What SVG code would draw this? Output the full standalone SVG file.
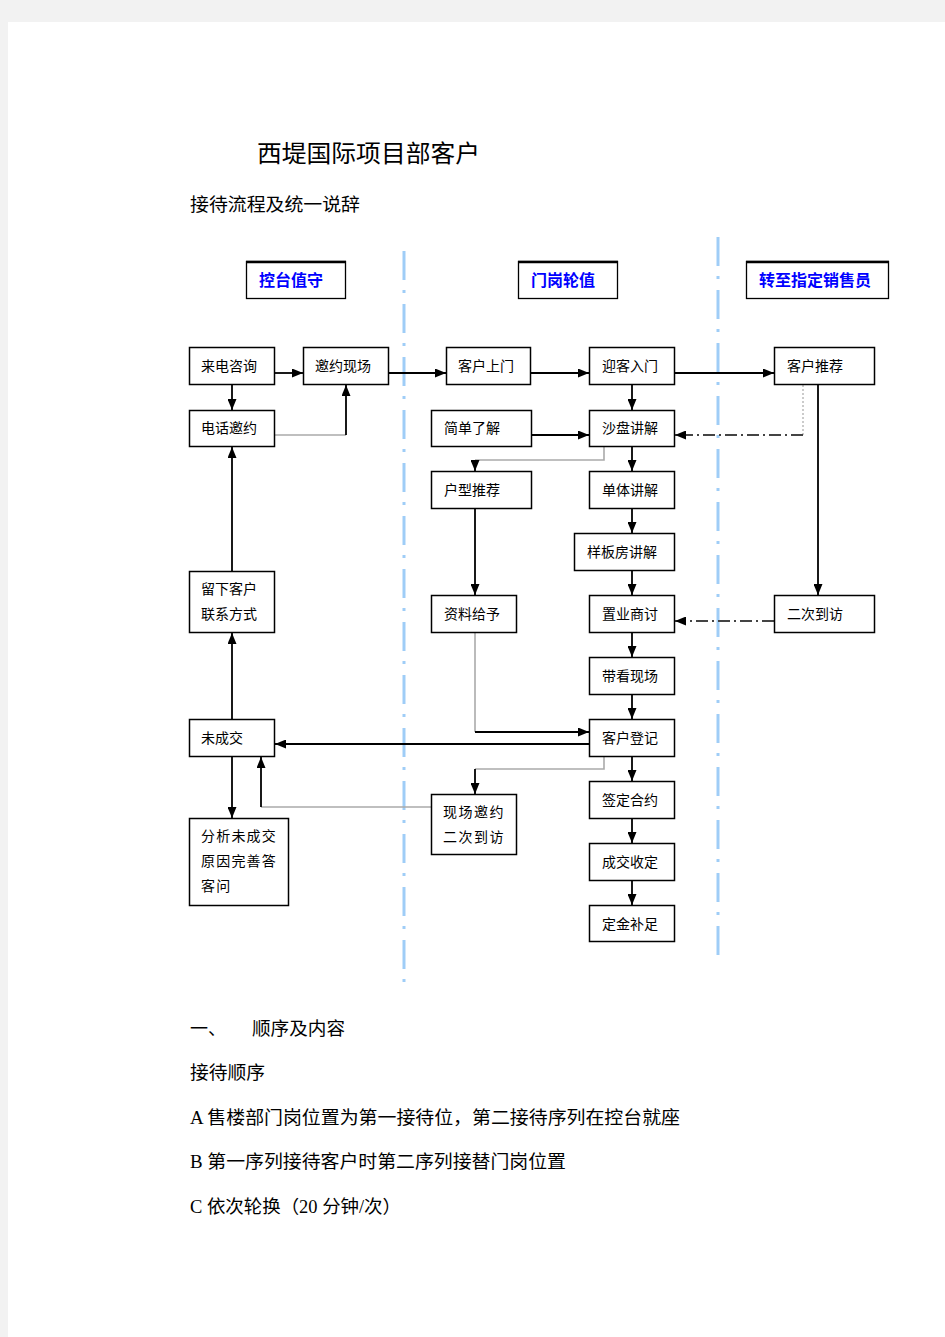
<svg xmlns="http://www.w3.org/2000/svg" width="945" height="1337" viewBox="0 0 945 1337">
<defs>
<style>
.t{font-family:"Liberation Sans","Noto Sans CJK SC",sans-serif;font-size:14px;fill:#000}
.h{font-family:"Liberation Sans","Noto Sans CJK SC",sans-serif;font-size:16px;font-weight:bold;fill:#0000ff}
.doc{font-family:"Liberation Serif","Noto Sans CJK SC",serif;fill:#000}
.box{fill:#fff;stroke:#000;stroke-width:1.5}
.hbox{fill:#fff;stroke:#000;stroke-width:1.3}
.ln{fill:none;stroke:#000;stroke-width:1.8}
.gl{fill:none;stroke:#aaa;stroke-width:1.6}
.dd{fill:none;stroke:#444;stroke-width:2;stroke-dasharray:12 4 2 4}
.dt{fill:none;stroke:#bbb;stroke-width:1.5;stroke-dasharray:2 2}
.lane{fill:none;stroke:#9fcdf7;stroke-width:3;stroke-dasharray:29 10 3 11}
</style>
<marker id="arr" viewBox="0 0 11 9" refX="11" refY="4.5" markerWidth="11" markerHeight="9" markerUnits="userSpaceOnUse" orient="auto"><path d="M0,0 L11,4.5 L0,9 z" fill="#000"/></marker>
</defs>
<rect x="0" y="0" width="945" height="1337" fill="#f2f2f2"/>
<rect x="8" y="22" width="937" height="1315" fill="#fff"/>

<g id="texts">
<text class="doc" x="257" y="162" font-size="24" textLength="223" lengthAdjust="spacingAndGlyphs">西堤国际项目部客户</text>
<text class="doc" x="190" y="211" font-size="18" textLength="170" lengthAdjust="spacingAndGlyphs">接待流程及统一说辞</text>
<text class="doc" x="190" y="1035" font-size="18" textLength="36" lengthAdjust="spacingAndGlyphs">一、</text>
<text class="doc" x="252" y="1035" font-size="18" textLength="93" lengthAdjust="spacingAndGlyphs">顺序及内容</text>
<text class="doc" x="190" y="1079" font-size="18" textLength="75" lengthAdjust="spacingAndGlyphs">接待顺序</text>
<text class="doc" x="190" y="1124" font-size="18" textLength="490" lengthAdjust="spacingAndGlyphs">A 售楼部门岗位置为第一接待位，第二接待序列在控台就座</text>
<text class="doc" x="190" y="1168" font-size="18" textLength="376" lengthAdjust="spacingAndGlyphs">B 第一序列接待客户时第二序列接替门岗位置</text>
<text class="doc" x="190" y="1213" font-size="18" textLength="211" lengthAdjust="spacingAndGlyphs">C 依次轮换（20 分钟/次）</text>
</g>

<g id="lanes">
<line class="lane" x1="404" y1="251" x2="404" y2="990"/>
<line class="lane" x1="718" y1="237" x2="718" y2="963"/>
</g>

<g id="headers">
<g id="h1"><rect class="hbox" x="246.5" y="261.5" width="99" height="37"/><line x1="246" y1="262" x2="346" y2="262" stroke="#000" stroke-width="2.5"/><text class="h" x="259" y="286">控台值守</text></g>
<g id="h2"><rect class="hbox" x="518.5" y="261.5" width="99" height="37"/><line x1="518" y1="262" x2="618" y2="262" stroke="#000" stroke-width="2.5"/><text class="h" x="531" y="286">门岗轮值</text></g>
<g id="h3"><rect class="hbox" x="746.5" y="261.5" width="142" height="37"/><line x1="746" y1="262" x2="889" y2="262" stroke="#000" stroke-width="2.5"/><text class="h" x="759" y="286">转至指定销售员</text></g>
</g>

<g id="connectors">
<line class="ln" x1="275" y1="373" x2="303" y2="373" marker-end="url(#arr)"/>
<line class="ln" x1="232" y1="385" x2="232" y2="410" marker-end="url(#arr)"/>
<polyline class="gl" points="275,435 346,435"/>
<line class="ln" x1="346" y1="435" x2="346" y2="385" marker-end="url(#arr)"/>
<line class="ln" x1="389" y1="373" x2="446" y2="373" marker-end="url(#arr)"/>
<line class="ln" x1="531" y1="373" x2="589" y2="373" marker-end="url(#arr)"/>
<line class="ln" x1="675" y1="373" x2="774" y2="373" marker-end="url(#arr)"/>
<line class="ln" x1="632" y1="385" x2="632" y2="410" marker-end="url(#arr)"/>
<line class="ln" x1="532" y1="435" x2="589" y2="435" marker-end="url(#arr)"/>
<polyline class="gl" points="604,447 604,460 475,460"/>
<line class="ln" x1="475" y1="460" x2="475" y2="471" marker-end="url(#arr)"/>
<line class="ln" x1="632" y1="447" x2="632" y2="471" marker-end="url(#arr)"/>
<line class="ln" x1="632" y1="509" x2="632" y2="533" marker-end="url(#arr)"/>
<line class="ln" x1="632" y1="571" x2="632" y2="595" marker-end="url(#arr)"/>
<line class="ln" x1="632" y1="633" x2="632" y2="657" marker-end="url(#arr)"/>
<line class="ln" x1="632" y1="695" x2="632" y2="719" marker-end="url(#arr)"/>
<line class="ln" x1="632" y1="757" x2="632" y2="781" marker-end="url(#arr)"/>
<line class="ln" x1="632" y1="819" x2="632" y2="843" marker-end="url(#arr)"/>
<line class="ln" x1="632" y1="881" x2="632" y2="905" marker-end="url(#arr)"/>
<line class="ln" x1="475" y1="509" x2="475" y2="595" marker-end="url(#arr)"/>
<polyline class="gl" points="475,633 475,732"/>
<line class="ln" x1="475" y1="732" x2="589" y2="732" marker-end="url(#arr)"/>
<line class="ln" x1="589" y1="744" x2="275" y2="744" marker-end="url(#arr)"/>
<polyline class="gl" points="604,757 604,769 475,769"/>
<line class="ln" x1="475" y1="769" x2="475" y2="794" marker-end="url(#arr)"/>
<polyline class="gl" points="431,807 261,807"/>
<line class="ln" x1="261" y1="807" x2="261" y2="757" marker-end="url(#arr)"/>
<line class="ln" x1="232" y1="757" x2="232" y2="818" marker-end="url(#arr)"/>
<line class="ln" x1="232" y1="719" x2="232" y2="633" marker-end="url(#arr)"/>
<line class="ln" x1="232" y1="571" x2="232" y2="447" marker-end="url(#arr)"/>
<polyline class="dt" points="803,385 803,435"/>
<line class="dd" x1="803" y1="435" x2="675" y2="435" marker-end="url(#arr)"/>
<line class="ln" x1="818" y1="385" x2="818" y2="595" marker-end="url(#arr)"/>
<line class="dd" x1="774" y1="621" x2="675" y2="621" marker-end="url(#arr)"/>
</g>

<g id="n_laidian"><rect class="box" x="189.5" y="347.5" width="85" height="37"/><text class="t" x="201" y="371">来电咨询</text></g>
<g id="n_yaoyuexianchang"><rect class="box" x="303.5" y="347.5" width="85" height="37"/><text class="t" x="315" y="371">邀约现场</text></g>
<g id="n_dianhua"><rect class="box" x="189.5" y="410.5" width="85" height="36"/><text class="t" x="201" y="433">电话邀约</text></g>
<g id="n_liuxia"><rect class="box" x="189.5" y="571.5" width="85" height="61"/><text class="t" x="201" y="594">留下客户</text><text class="t" x="201" y="619">联系方式</text></g>
<g id="n_weichengjiao"><rect class="box" x="189.5" y="719.5" width="85" height="37"/><text class="t" x="201" y="743">未成交</text></g>
<g id="n_fenxi"><rect class="box" x="189.5" y="818.5" width="99" height="87"/><text class="t" x="201" y="841" letter-spacing="1.2">分析未成交</text><text class="t" x="201" y="866" letter-spacing="1.2">原因完善答</text><text class="t" x="201" y="891" letter-spacing="1.2">客问</text></g>

<g id="n_kehushangmen"><rect class="box" x="446.5" y="347.5" width="84" height="37"/><text class="t" x="458" y="371">客户上门</text></g>
<g id="n_jiandan"><rect class="box" x="431.5" y="410.5" width="100" height="36"/><text class="t" x="444" y="433">简单了解</text></g>
<g id="n_huxing"><rect class="box" x="431.5" y="471.5" width="100" height="37"/><text class="t" x="444" y="495">户型推荐</text></g>
<g id="n_ziliao"><rect class="box" x="431.5" y="595.5" width="85" height="37"/><text class="t" x="444" y="619">资料给予</text></g>
<g id="n_xianchangyaoyue"><rect class="box" x="431.5" y="794.5" width="85" height="60"/><text class="t" x="443" y="817" letter-spacing="1.5">现场邀约</text><text class="t" x="443" y="842" letter-spacing="1.5">二次到访</text></g>

<g id="n_yingke"><rect class="box" x="589.5" y="347.5" width="85" height="37"/><text class="t" x="602" y="371">迎客入门</text></g>
<g id="n_shapan"><rect class="box" x="589.5" y="410.5" width="85" height="36"/><text class="t" x="602" y="433">沙盘讲解</text></g>
<g id="n_danti"><rect class="box" x="589.5" y="471.5" width="85" height="37"/><text class="t" x="602" y="495">单体讲解</text></g>
<g id="n_yangban"><rect class="box" x="574.5" y="533.5" width="100" height="37"/><text class="t" x="587" y="557">样板房讲解</text></g>
<g id="n_zhiye"><rect class="box" x="589.5" y="595.5" width="85" height="37"/><text class="t" x="602" y="619">置业商讨</text></g>
<g id="n_daikan"><rect class="box" x="589.5" y="657.5" width="85" height="37"/><text class="t" x="602" y="681">带看现场</text></g>
<g id="n_dengji"><rect class="box" x="589.5" y="719.5" width="85" height="37"/><text class="t" x="602" y="743">客户登记</text></g>
<g id="n_qianding"><rect class="box" x="589.5" y="781.5" width="85" height="37"/><text class="t" x="602" y="805">签定合约</text></g>
<g id="n_chengjiao"><rect class="box" x="589.5" y="843.5" width="85" height="37"/><text class="t" x="602" y="867">成交收定</text></g>
<g id="n_dingjin"><rect class="box" x="589.5" y="905.5" width="85" height="36"/><text class="t" x="602" y="929">定金补足</text></g>

<g id="n_tuijian"><rect class="box" x="774.5" y="347.5" width="100" height="37"/><text class="t" x="787" y="371">客户推荐</text></g>
<g id="n_erci"><rect class="box" x="774.5" y="595.5" width="100" height="37"/><text class="t" x="787" y="619">二次到访</text></g>
</svg>
